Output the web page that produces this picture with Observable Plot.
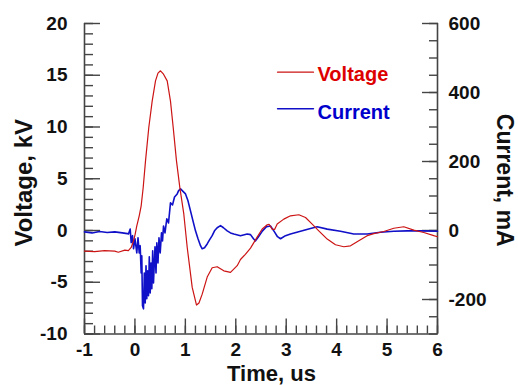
<!DOCTYPE html>
<html>
<head>
<meta charset="utf-8">
<script src="https://cdn.jsdelivr.net/npm/d3@7"></script>
<script src="https://cdn.jsdelivr.net/npm/@observablehq/plot@0.6"></script>
<style>
  html, body { margin: 0; padding: 0; background: #fff; }
  svg { display: block; }
</style>
</head>
<body>
<div id="chart"></div>
<script>
// ---- data (time in us) ----
const timeV = [-1, -0.8, -0.6, -0.4, -0.33, -0.2, -0.13, -0.074, -0.028, 0.005, 0.037, 0.085, 0.124, 0.164, 0.21, 0.275, 0.342, 0.408, 0.457, 0.507, 0.567, 0.64, 0.705, 0.759, 0.824, 0.89, 0.969, 1.037, 1.136, 1.221, 1.27, 1.334, 1.433, 1.532, 1.631, 1.762, 1.895, 2.028, 2.093, 2.19, 2.292, 2.42, 2.524, 2.623, 2.66, 2.722, 2.77, 2.821, 2.952, 3.085, 3.25, 3.383, 3.515, 3.646, 3.813, 3.977, 4.142, 4.275, 4.439, 4.606, 4.737, 4.935, 5.133, 5.332, 5.53, 5.728, 5.926, 6.0];
const voltage = [-2.0, -2.05, -1.95, -2.0, -2.1, -1.9, -1.95, -1.64, -1.0, -0.35, 0.45, 1.42, 2.39, 4.16, 6.73, 9.95, 12.5, 14.46, 15.2, 15.43, 15.1, 14.46, 12.5, 9.95, 6.73, 4.16, 1.6, -1.64, -5.5, -7.2, -7.0, -6.15, -4.5, -3.6, -3.5, -3.9, -4.05, -3.4, -2.8, -2.3, -1.7, -0.67, 0.14, 0.55, 0.6, 0.14, 0.1, 0.62, 1.1, 1.42, 1.52, 1.26, 0.62, -0.03, -0.83, -1.38, -1.57, -1.48, -1.0, -0.5, -0.3, -0.1, 0.22, 0.36, 0.04, -0.19, -0.5, -0.6];

const timeI = [-1, -0.85, -0.7, -0.55, -0.4, -0.25, -0.15, -0.128, -0.094, -0.074, -0.048, -0.028, 0.001, 0.037, 0.061, 0.085, 0.104, 0.124, 0.136, 0.150, 0.170, 0.186, 0.204, 0.220, 0.235, 0.253, 0.269, 0.285, 0.303, 0.319, 0.335, 0.352, 0.368, 0.398, 0.418, 0.434, 0.457, 0.477, 0.501, 0.527, 0.547, 0.567, 0.596, 0.632, 0.666, 0.705, 0.745, 0.785, 0.838, 0.864, 0.904, 0.943, 1.003, 1.052, 1.102, 1.151, 1.201, 1.251, 1.300, 1.334, 1.380, 1.433, 1.479, 1.532, 1.578, 1.631, 1.697, 1.756, 1.830, 1.895, 1.961, 2.093, 2.226, 2.292, 2.351, 2.391, 2.450, 2.530, 2.609, 2.688, 2.767, 2.827, 2.887, 2.986, 3.085, 3.283, 3.481, 3.614, 3.813, 4.076, 4.340, 4.606, 4.870, 5.133, 5.399, 5.663, 6.0];
const current = [-4, -7, -3, -6, -4, -7, -9, -10, 4, -35, -15, -53, -24, -65, -21, -65, -44, -123, -73, -218, -227, -123, -210, -102, -198, -117, -189, -76, -181, -94, -169, -59, -152, -47, -123, -36, -94, -21, -65, -7, -30, 13, -7, 34, 22, 80, 74, 97, 106, 115, 121, 115, 106, 86, 57, 28, -1, -24, -44, -53, -50, -39, -27, -15, -1, 8, 14, 8, -1, -7, -10, -15, -10, -12, -24, -30, -18, -1, 11, 13, -4, -18, -24, -15, -10, -2, 6, 11, 4, -2, -10, -10, -5, -2, -1, -1, -2];

// ---- axes ----
const timeDomain = [-1, 6];
const voltDomain = [-10, 20];
const mAperkV = 30; // right axis: 600 mA <-> 20 kV
const timeTicks = [-1, 0, 1, 2, 3, 4, 5, 6];
const timeMinor = d3.range(-1, 6.001, 0.2).map(v => +v.toFixed(1));
const voltTicks = [-10, -5, 0, 5, 10, 15, 20];
const voltMinor = d3.range(-10, 20.001, 1);
const currentTicks = [-200, 0, 200, 400, 600];
const currentMinor = d3.range(-300, 600.001, 50);

const seriesNames = ["Voltage", "Current"];
const seriesColors = ["#cc1414", "#1010c8"];
const textColors = ["#dd0000", "#0000cc"];

const voltRows = timeV.map((t, i) => ({t, v: voltage[i]}));
const currRows = timeI.map((t, i) => ({t, c: current[i]}));

const font = "'Liberation Sans', Arial, sans-serif";
const axisColor = "#444";
const legendLine = {draw(context, l) { context.moveTo(0, 0); context.lineTo(0, -l); }};

const chart = Plot.plot({
  width: 518,
  height: 385,
  marginLeft: 84,
  marginRight: 81,
  marginTop: 23,
  marginBottom: 51.5,
  x: {domain: timeDomain},
  y: {domain: voltDomain},
  style: {fontFamily: font, fontWeight: "bold", fontSize: "19px", color: "#111", background: "#fff", overflow: "visible"},
  marks: [
    // axis lines
    Plot.ruleX(timeDomain, {stroke: axisColor, strokeWidth: 1.6}),
    Plot.ruleY([voltDomain[0]], {stroke: axisColor, strokeWidth: 1.6}),
    // inward ticks
    Plot.axisX({ticks: timeMinor, tickSize: -8, tickFormat: () => "", label: null, stroke: axisColor, strokeWidth: 1.4}),
    Plot.axisX({ticks: timeTicks, tickSize: -15, tickFormat: () => "", label: null, stroke: axisColor, strokeWidth: 1.4}),
    Plot.axisY({ticks: voltMinor, tickSize: -9, tickFormat: () => "", label: null, stroke: axisColor, strokeWidth: 1.4}),
    Plot.axisY({ticks: voltTicks, tickSize: -16, tickFormat: () => "", label: null, stroke: axisColor, strokeWidth: 1.4}),
    Plot.axisY({anchor: "right", ticks: currentMinor.map(c => c / mAperkV), tickSize: -9, tickFormat: () => "", label: null, stroke: axisColor, strokeWidth: 1.4}),
    Plot.axisY({anchor: "right", ticks: currentTicks.map(c => c / mAperkV), tickSize: -16, tickFormat: () => "", label: null, stroke: axisColor, strokeWidth: 1.4}),
    // tick labels
    Plot.axisX({ticks: timeTicks, tickSize: 0, tickPadding: 8, tickFormat: d => String(d), label: null, fontSize: 19, fill: "#111"}),
    Plot.axisY({ticks: voltTicks, tickSize: 0, tickPadding: 17, tickFormat: d => String(d), label: null, fontSize: 19, fill: "#111"}),
    Plot.axisY({anchor: "right", ticks: currentTicks.map(c => c / mAperkV), tickSize: 0, tickPadding: 11, tickFormat: d => String(Math.round(d * mAperkV)), label: null, fontSize: 19, fill: "#111"}),
    // axis titles
    Plot.text(["Voltage, kV"], {text: d => d, frameAnchor: "left", textAnchor: "middle", lineAnchor: "middle", rotate: -90, dx: -60, dy: 4, fontSize: 24, fontWeight: "bold", fill: "#111"}),
    Plot.text(["Current, mA"], {text: d => d, frameAnchor: "right", textAnchor: "middle", lineAnchor: "middle", rotate: 90, dx: 66.5, dy: 1.5, fontSize: 23, fontWeight: "bold", fill: "#111"}),
    Plot.text(["Time, us"], {text: d => d, frameAnchor: "bottom", textAnchor: "middle", lineAnchor: "middle", dx: 10.5, dy: 39.5, fontSize: 22, fontWeight: "bold", fill: "#111"}),
    // series
    Plot.line(currRows, {x: "t", y: d => d.c / mAperkV, stroke: seriesColors[1], strokeWidth: 1.6, strokeLinejoin: "round"}),
    Plot.line(voltRows, {x: "t", y: "v", stroke: seriesColors[0], strokeWidth: 1.2, strokeLinejoin: "round"}),
    // legend
    Plot.vector([0], {frameAnchor: "top-left", dx: 193, dy: 48.7, length: 36, rotate: 90, anchor: "start", shape: legendLine, stroke: seriesColors[0], strokeWidth: 1.2}),
    Plot.vector([0], {frameAnchor: "top-left", dx: 193, dy: 85.3, length: 36, rotate: 90, anchor: "start", shape: legendLine, stroke: seriesColors[1], strokeWidth: 1.4}),
    Plot.text([seriesNames[0]], {text: d => d, frameAnchor: "top-left", textAnchor: "start", lineAnchor: "middle", dx: 233, dy: 50.6, fontSize: 20, fontWeight: "bold", fill: textColors[0]}),
    Plot.text([seriesNames[1]], {text: d => d, frameAnchor: "top-left", textAnchor: "start", lineAnchor: "middle", dx: 233, dy: 88.6, fontSize: 20, fontWeight: "bold", fill: textColors[1]})
  ]
});
document.getElementById("chart").appendChild(chart);
</script>
</body>
</html>
